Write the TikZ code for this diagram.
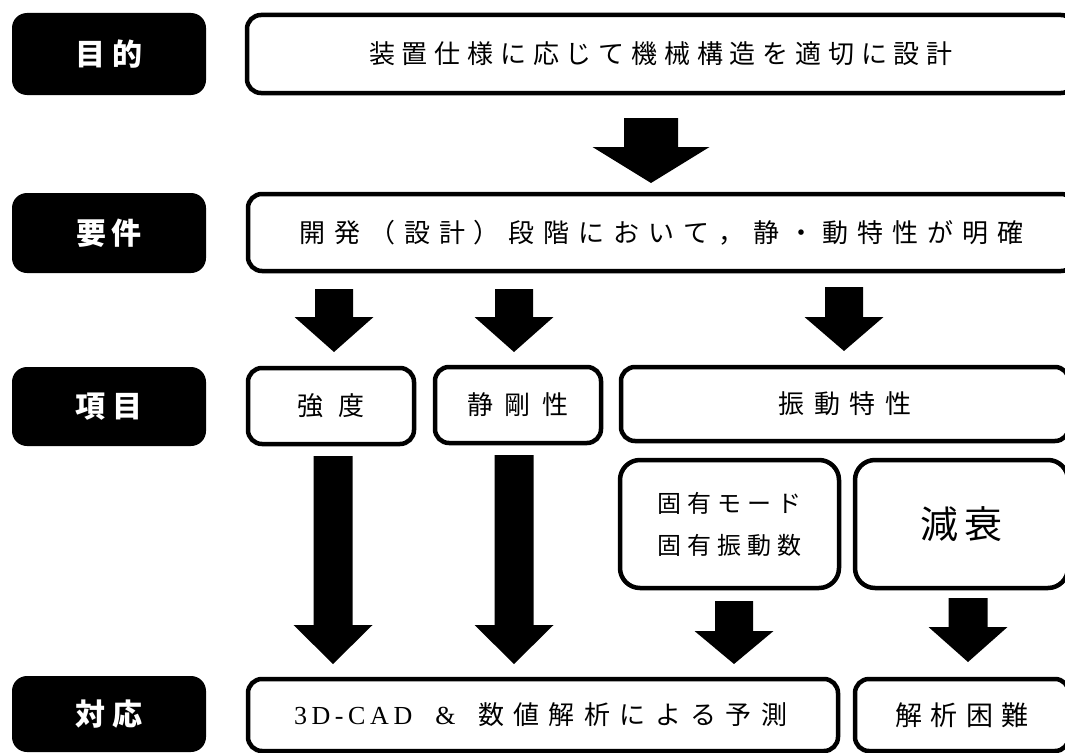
\documentclass[tikz,border=0pt]{standalone}
\usepackage{fontspec}
\newfontfamily\jp{Noto Sans CJK JP}
\newfontfamily\lat{Liberation Serif}
\usetikzlibrary{calc}
\makeatletter
% set each character of #2 centred in a cell #1 wide
\newcommand\spaced[2]{\begingroup\def\sp@pitch{#1}\sp@loop#2\relax\endgroup}
\def\sp@loop#1{\ifx\relax#1\else\makebox[\sp@pitch][c]{#1}\expandafter\sp@loop\fi}
\makeatother
\tikzset{
  lbl/.style={fill=black, rounded corners=15pt, minimum width=194pt, minimum height=#1,
    inner sep=0pt, outer sep=0pt, text=white,
    font={\jp\bfseries\fontsize{30}{30}\selectfont}},
  wbox/.style={draw=black, line width=4.5pt, rounded corners=14pt, fill=white, inner sep=0pt, outer sep=0pt},
  jt/.style={font={\jp\fontsize{#1}{#1}\selectfont}},
  blockarrow/.style={fill=black}
}
% #1 start, #2 end (tip), #3 half shaft, #4 half head, #5 head length
\newcommand\barrow[5]{\fill[blockarrow] let \p1=#1, \p2=#2 in
  (\x1-#3,\y1) -- (\x1+#3,\y1) -- (\x1+#3,\y2+#5) -- (\x1+#4,\y2+#5) -- (\x1,\y2)
  -- (\x1-#4,\y2+#5) -- (\x1-#3,\y2+#5) -- cycle;}
\begin{document}
\begin{tikzpicture}[x=1pt,y=-1pt]
\useasboundingbox (0,0) rectangle (1065,752);
\clip (0,0) rectangle (1065,752);

% row labels
\node[lbl=82pt] (L1) at (109,54) {\raisebox{-2pt}{\spaced{38pt}{目的}}};
\node[lbl=80pt] (L2) at (109,233) {\raisebox{-2pt}{\spaced{36pt}{要件}}};
\node[lbl=79pt] (L3) at (109,406.5) {\raisebox{-2pt}{\spaced{37pt}{項目}}};
\node[lbl=76pt] (L4) at (109,714) {\raisebox{-3pt}{\spaced{38pt}{対応}}};

% boxes
\node[wbox, jt=26, minimum width=828pt, minimum height=78pt] (B1) at (661,54)
  {\raisebox{-2pt}{\spaced{32.8pt}{装置仕様に応じて機械構造を適切に設計}}};
\node[wbox, jt=26, minimum width=827pt, minimum height=77pt] (B2) at (661.5,232.5)
  {\raisebox{-1pt}{\spaced{34.9pt}{開発（設計）段階において，静・動特性が明確}}};
\node[wbox, jt=26, minimum width=166pt, minimum height=76pt] (B3) at (331,406) {\spaced{41.5pt}{強度}};
\node[wbox, jt=26, minimum width=166pt, minimum height=76pt] (B4) at (518,405) {\spaced{37.5pt}{静剛性}};
\node[wbox, jt=26, minimum width=448pt, minimum height=74pt] (B5) at (845,404) {\spaced{35.5pt}{振動特性}};
\node[wbox, rounded corners=20pt, align=center, font={\jp\fontsize{24}{42}\selectfont},
  minimum width=219pt, minimum height=128pt] (B6) at (729.5,524)
  {\spaced{29.8pt}{固有モード}\\\spaced{29.8pt}{固有振動数}};
\node[wbox, rounded corners=20pt, jt=38, minimum width=213pt, minimum height=128pt] (B7) at (961.5,524)
  {\raisebox{-3pt}{\spaced{44.5pt}{減衰}}};
\node[wbox, jt=26, minimum width=590pt, minimum height=72pt] (B8) at (543,715)
  {\raisebox{-3pt}{{\lat\fontsize{26}{26}\selectfont 3\kern4.6pt D\kern4.6pt -\kern4.6pt C\kern4.6pt A\kern4.6pt D\hspace{23pt}\&}\hspace{17.8pt}\spaced{35.4pt}{数値解析による予測}}};
\node[wbox, jt=27, minimum width=214pt, minimum height=72pt] (B9) at (962,715)
  {\raisebox{-3pt}{\spaced{35.2pt}{解析困難}}};

% block arrows
\barrow{($(B1.south)+(-10,25)$)}{($(B2.north)+(0,-11)$)}{27pt}{58.5pt}{36pt}
\barrow{($(B3.north |- B2.south)+(3,18)$)}{($(B3.north)+(0,-16)$)}{19pt}{39.5pt}{35pt}
\barrow{($(B4.north |- B2.south)+(-4,18)$)}{($(B4.north)+(0,-15)$)}{19pt}{39.5pt}{35pt}
\barrow{($(B5.north |- B2.south)+(-1,16)$)}{($(B5.north)+(0,-16)$)}{19pt}{39.5pt}{34pt}
\barrow{($(B3.south)+(2,12)$)}{($(B8.north)+(0,-15)$)}{19.5pt}{39.5pt}{39pt}
\barrow{($(B4.south)+(-4,12)$)}{($(B8.north)+(0,-15)$)}{19.5pt}{39.5pt}{39pt}
\barrow{($(B6.south)+(4.5,13)$)}{($(B8.north)+(0,-15)$)}{19pt}{39.5pt}{33pt}
\barrow{($(B7.south)+(6.5,10)$)}{($(B9.north)+(0,-17)$)}{19.5pt}{39.5pt}{35pt}
\end{tikzpicture}
\end{document}
